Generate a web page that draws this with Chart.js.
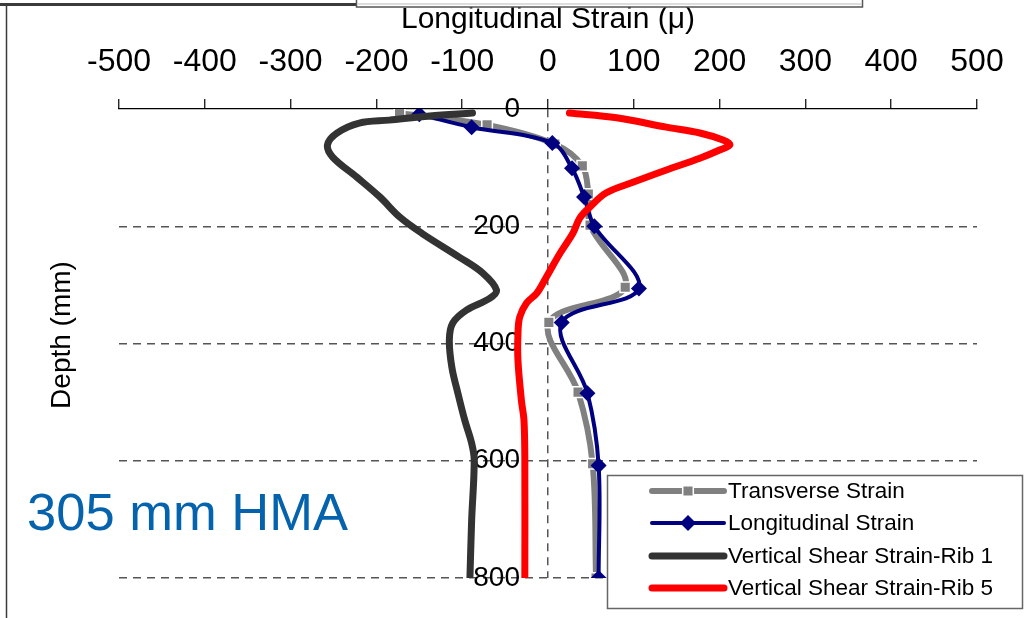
<!DOCTYPE html>
<html>
<head>
<meta charset="utf-8">
<title>Strain profile – 305 mm HMA</title>
<script src="https://cdn.jsdelivr.net/npm/chart.js@4/dist/chart.umd.min.js"></script>
<style>
  html, body { margin: 0; padding: 0; background: #fff; }
  #wrap { width: 1025px; height: 618px; position: relative; }
</style>
</head>
<body>
<div id="wrap"><canvas id="c" width="1025" height="618"></canvas></div>
<script>
// Strain readings (µε) against gauge depth (mm)
const transverseDepth  = [7, 27, 60, 97, 145, 198, 304, 364, 483, 605, 800];
const transverseStrain = [-173, -71, 8, 40, 47, 49, 90, 1, 35, 52, 56];

const longitudinalDepth  = [9, 31, 58, 101, 150, 200, 306, 364, 485, 608, 800];
const longitudinalStrain = [-150, -89, 5, 28, 42, 54, 106, 16, 46, 59, 59];

const rib1Depth  = [7, 12, 19, 24, 41, 61, 82, 116, 150, 184, 212, 253, 280, 309, 323, 343, 365, 394, 441, 485, 531, 570, 599, 702, 800];
const rib1Strain = [-88, -138, -185, -220, -246, -257, -251, -223, -196, -173, -147, -103, -76, -60, -68, -95, -111, -115, -112, -105, -97, -89, -86, -89, -91];

const rib5Depth  = [7, 15, 31, 41, 53, 61, 70, 84, 104, 125, 143, 167, 186, 212, 246, 287, 314, 331, 355, 383, 429, 497, 531, 599, 800];
const rib5Strain = [25, 80, 138, 177, 204, 212, 200, 177, 138, 99, 68, 49, 37, 29, 14, -2, -13, -25, -33, -35, -35, -31, -28, -27, -27];

const seriesNames = ['Transverse Strain', 'Longitudinal Strain', 'Vertical Shear Strain-Rib 1', 'Vertical Shear Strain-Rib 5'];
const strainTicks = [-500, -400, -300, -200, -100, 0, 100, 200, 300, 400, 500];
const depthTicks  = [0, 200, 400, 600, 800];

const FONT = "'Liberation Sans', Arial, Helvetica, sans-serif";
Chart.defaults.font.family = FONT;
Chart.defaults.color = '#000';

const toPoints = (depth, strain) => depth.map((d, i) => ({ x: strain[i], y: d }));

const datasets = [
  {
    label: seriesNames[0],
    data: toPoints(transverseDepth, transverseStrain),
    borderColor: '#808080', backgroundColor: '#808080',
    borderWidth: 6, tension: 0.35,
    pointStyle: 'rect', pointRadius: 7.5,
    pointBackgroundColor: '#808080', pointBorderColor: '#ffffff', pointBorderWidth: 1.5,
    order: 3
  },
  {
    label: seriesNames[1],
    data: toPoints(longitudinalDepth, longitudinalStrain),
    borderColor: '#000080', backgroundColor: '#000080',
    borderWidth: 4, tension: 0.35,
    pointStyle: 'rectRot', pointRadius: 8,
    pointBackgroundColor: '#000080', pointBorderColor: '#000080', pointBorderWidth: 0,
    order: 2
  },
  {
    label: seriesNames[2],
    data: toPoints(rib1Depth, rib1Strain),
    borderColor: '#333333', backgroundColor: '#333333',
    borderWidth: 7, tension: 0.35, pointRadius: 0,
    borderCapStyle: 'round', borderJoinStyle: 'round',
    order: 1
  },
  {
    label: seriesNames[3],
    data: toPoints(rib5Depth, rib5Strain),
    borderColor: '#ff0000', backgroundColor: '#ff0000',
    borderWidth: 7, tension: 0.35, pointRadius: 0,
    borderCapStyle: 'round', borderJoinStyle: 'round',
    order: 0
  }
];

// Page furniture: frame lines, layer label, vertical axis caption and legend box
const furniture = {
  id: 'furniture',
  afterDraw(chart) {
    const ctx = chart.ctx;
    ctx.save();

    // frame edges
    ctx.strokeStyle = '#3a3a3a';
    ctx.lineWidth = 3;
    ctx.beginPath(); ctx.moveTo(0, 4.5); ctx.lineTo(357, 4.5); ctx.stroke();
    ctx.lineWidth = 1.5;
    ctx.beginPath(); ctx.moveTo(6.5, 4); ctx.lineTo(6.5, 618); ctx.stroke();
    ctx.fillStyle = '#fff';
    ctx.fillRect(356.5, 0, 506, 7);
    ctx.strokeStyle = '#555';
    ctx.lineWidth = 1.5;
    ctx.strokeRect(356.5, -3, 506, 10);
    ctx.strokeStyle = '#bbb';
    ctx.lineWidth = 1;
    ctx.beginPath(); ctx.moveTo(358, 4); ctx.lineTo(861, 4); ctx.stroke();

    // vertical axis caption
    ctx.fillStyle = '#000';
    ctx.font = '28px ' + FONT;
    ctx.textAlign = 'center';
    ctx.textBaseline = 'middle';
    ctx.translate(62, 335);
    ctx.rotate(-Math.PI / 2);
    ctx.fillText('Depth (mm)', 0, 0);
    ctx.setTransform(1, 0, 0, 1, 0, 0);

    // layer label
    ctx.fillStyle = '#0563ad';
    ctx.font = '52.5px ' + FONT;
    ctx.textAlign = 'left';
    ctx.textBaseline = 'alphabetic';
    ctx.fillText('305 mm HMA', 27, 530);

    // legend
    const bx = 607, by = 475, bw = 415, bh = 133;
    ctx.fillStyle = '#fff';
    ctx.fillRect(bx, by, bw, bh);
    ctx.strokeStyle = '#666';
    ctx.lineWidth = 1.5;
    ctx.strokeRect(bx + 0.5, by + 0.5, bw, bh);

    const x0 = 652, x1 = 724, textX = 728;
    const rowY = [491, 523, 556, 588];
    chart.data.datasets.forEach((ds, i) => {
      const y = rowY[i];
      ctx.strokeStyle = ds.borderColor;
      ctx.lineWidth = ds.borderWidth;
      ctx.lineCap = 'round';
      ctx.beginPath(); ctx.moveTo(x0, y); ctx.lineTo(x1, y); ctx.stroke();
      if (ds.pointRadius > 0) {
        ctx.fillStyle = ds.pointBackgroundColor;
        ctx.strokeStyle = ds.pointBorderColor;
        ctx.lineWidth = ds.pointBorderWidth;
        Chart.helpers.drawPoint(ctx, {
          pointStyle: ds.pointStyle, radius: ds.pointRadius, rotation: 0,
          borderWidth: ds.pointBorderWidth
        }, (x0 + x1) / 2, y);
      }
      ctx.fillStyle = '#000';
      ctx.font = '22.5px ' + FONT;
      ctx.textAlign = 'left';
      ctx.textBaseline = 'middle';
      ctx.fillText(ds.label, textX, y + 1);
    });
    ctx.restore();
  }
};

new Chart(document.getElementById('c'), {
  type: 'scatter',
  data: { datasets },
  options: {
    responsive: false,
    animation: false,
    showLine: true,
    layout: { padding: { left: 119, right: 48, top: 0, bottom: 40 } },
    plugins: { legend: { display: false }, tooltip: { enabled: false } },
    scales: {
      x: {
        type: 'linear', position: 'top', min: -500, max: 500,
        afterBuildTicks: s => { s.ticks = strainTicks.map(v => ({ value: v })); },
        afterFit: s => { s.height = 109; },
        ticks: { font: { size: 32 }, color: '#000', padding: 18, maxRotation: 0, autoSkip: false },
        grid: {
          drawOnChartArea: true,
          color: c => (c.tick && c.tick.value === 0 ? '#555' : 'rgba(0,0,0,0)'),
          lineWidth: 1.5,
          tickColor: '#000', tickLength: 10, tickWidth: 1.2
        },
        border: { display: true, color: '#000', width: 1.2, dash: [8, 6] },
        title: {
          display: true, text: 'Longitudinal Strain (μ)', color: '#000',
          font: { size: 30, lineHeight: 1 }, padding: { top: 5, bottom: 0 }
        }
      },
      y: {
        type: 'linear', position: { x: 0 }, reverse: true, min: 0, max: 800,
        afterBuildTicks: s => { s.ticks = depthTicks.map(v => ({ value: v })); },
        ticks: {
          font: { size: 28 }, color: '#000',
          // labels sit to the left of the zero-strain axis
          callback: v => v + '\u2002\u2002'
        },
        grid: {
          color: c => (c.tick && c.tick.value === 0 ? 'rgba(0,0,0,0)' : '#555'),
          lineWidth: 1.5, drawTicks: false
        },
        border: { display: false, dash: [8, 6] }
      }
    }
  },
  plugins: [furniture]
});
</script>
</body>
</html>
